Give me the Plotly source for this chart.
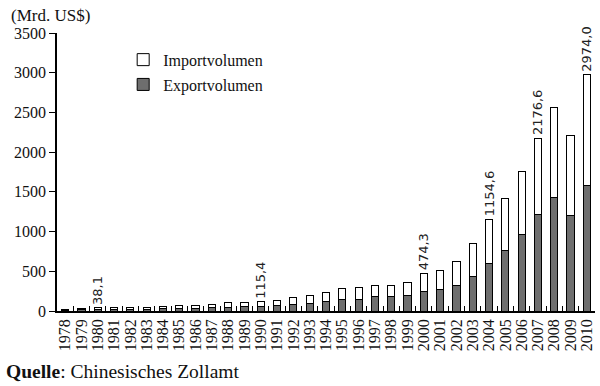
import plotly.graph_objects as go

years = [str(y) for y in range(1978, 2011)]
export_vals = [9.8, 13.7, 18.1, 22.0, 22.3, 22.2, 26.1, 27.4, 30.9, 39.4, 47.5, 52.5, 62.1,
               71.8, 84.9, 91.7, 121.0, 148.8, 151.0, 182.8, 183.7, 194.9, 249.2, 266.1,
               325.6, 438.2, 593.3, 762.0, 969.0, 1218.0, 1430.7, 1201.6, 1577.8]
import_vals = [10.9, 15.7, 20.0, 22.0, 19.3, 21.4, 27.4, 42.3, 42.9, 43.2, 55.3, 59.1, 53.3,
               63.8, 80.6, 104.0, 115.6, 132.1, 138.8, 142.4, 140.2, 165.7, 225.1, 243.6,
               295.2, 412.8, 561.2, 660.0, 791.5, 958.6, 1132.6, 1005.9, 1396.2]
label_years = {"1980": "38,1", "1990": "115,4", "2000": "474,3", "2004": "1154,6",
               "2007": "2176,6", "2010": "2974,0"}
bar_labels = [label_years.get(y, "") for y in years]

serif = "Liberation Serif"
sans = "DejaVu Sans"

fig = go.Figure()
fig.add_trace(go.Bar(
    x=years, y=export_vals, name="Exportvolumen", legendgroup="exp", legendrank=2,
    marker=dict(color="#6e6e6e", line=dict(color="#000000", width=1)),
))
fig.add_trace(go.Bar(
    x=years, y=import_vals, name="Importvolumen", legendgroup="imp", legendrank=1,
    marker=dict(color="#ffffff", line=dict(color="#000000", width=1)),
    text=bar_labels, textposition="outside", textangle=-90,
    textfont=dict(family=sans, size=13, color="#222222"),
    constraintext="none", cliponaxis=False,
))

fig.update_layout(
    width=600, height=386,
    barmode="stack", bargap=0.56,
    plot_bgcolor="white", paper_bgcolor="white",
    margin=dict(l=57, r=5, t=33, b=75),
    font=dict(family=serif, size=16, color="#111111"),
    showlegend=True,
    legend=dict(x=0.123, y=0.965, xanchor="left", yanchor="top",
                traceorder="grouped",
                font=dict(family=serif, size=16, color="#111111"),
                bgcolor="rgba(0,0,0,0)", tracegroupgap=1),
    xaxis=dict(
        type="category", showline=True, linecolor="black", linewidth=1.5,
        ticks="inside", tickson="boundaries", ticklen=5, tickcolor="black",
        tickmode="array", tickvals=years, ticktext=years,
        tickangle=-90, tickfont=dict(family=serif, size=16), showgrid=False,
    ),
    yaxis=dict(
        range=[0, 3500], dtick=500, showline=True, linecolor="black", linewidth=1.5,
        ticks="outside", ticklen=6, tickcolor="black", showgrid=False, zeroline=False,
        tickfont=dict(family=serif, size=16),
    ),
    annotations=[
        dict(text="(Mrd. US$)", x=0.0, y=1.0, xref="paper", yref="paper",
             xshift=-48, yshift=18, xanchor="left", yanchor="middle", showarrow=False,
             font=dict(family=serif, size=17)),
        dict(text="<b>Quelle</b>: Chinesisches Zollamt", x=0.0, y=0.0, xref="paper", yref="paper",
             xshift=-53, yshift=-48, xanchor="left", yanchor="top", showarrow=False,
             font=dict(family=serif, size=19.5)),
    ],
)

fig.write_html("out.html", config={"displayModeBar": False},
               post_script="document.body.style.margin='0';document.body.style.padding='0';")
